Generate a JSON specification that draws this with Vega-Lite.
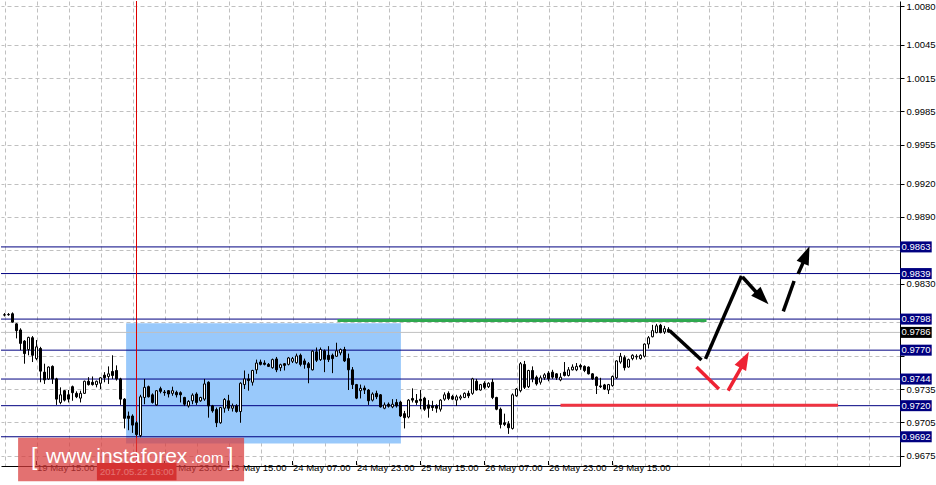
{
"$schema":"https://vega.github.io/schema/vega-lite/v6.json",
"width":936,"height":485,
"autosize":{"type":"fit","contains":"padding"},
"padding":0,
"background":"white",
"config":{"view":{"stroke":null},"font":"Liberation Sans"},
"datasets":{
"candles":[
{"k":0,"o":0.98019,"h":0.98034,"l":0.98004,"c":0.98016},
{"k":1,"o":0.98022,"h":0.98034,"l":0.98010,"c":0.98019},
{"k":2,"o":0.98028,"h":0.98040,"l":0.97949,"c":0.97952},
{"k":3,"o":0.97937,"h":0.97943,"l":0.97806,"c":0.97876},
{"k":4,"o":0.97882,"h":0.97897,"l":0.97700,"c":0.97761},
{"k":5,"o":0.97782,"h":0.97791,"l":0.97578,"c":0.97669},
{"k":6,"o":0.97706,"h":0.97821,"l":0.97654,"c":0.97815},
{"k":7,"o":0.97812,"h":0.97827,"l":0.97593,"c":0.97654},
{"k":8,"o":0.97624,"h":0.97791,"l":0.97609,"c":0.97730},
{"k":9,"o":0.97715,"h":0.97730,"l":0.97411,"c":0.97511},
{"k":10,"o":0.97502,"h":0.97578,"l":0.97396,"c":0.97432},
{"k":11,"o":0.97441,"h":0.97554,"l":0.97432,"c":0.97548},
{"k":12,"o":0.97554,"h":0.97563,"l":0.97396,"c":0.97441},
{"k":13,"o":0.97441,"h":0.97451,"l":0.97207,"c":0.97259},
{"k":14,"o":0.97229,"h":0.97365,"l":0.97213,"c":0.97298},
{"k":15,"o":0.97335,"h":0.97341,"l":0.97238,"c":0.97250},
{"k":16,"o":0.97298,"h":0.97341,"l":0.97229,"c":0.97259},
{"k":17,"o":0.97371,"h":0.97381,"l":0.97244,"c":0.97317},
{"k":18,"o":0.97311,"h":0.97329,"l":0.97268,"c":0.97280},
{"k":19,"o":0.97268,"h":0.97335,"l":0.97229,"c":0.97311},
{"k":20,"o":0.97311,"h":0.97426,"l":0.97305,"c":0.97420},
{"k":21,"o":0.97420,"h":0.97457,"l":0.97381,"c":0.97390},
{"k":22,"o":0.97411,"h":0.97463,"l":0.97381,"c":0.97390},
{"k":23,"o":0.97390,"h":0.97426,"l":0.97365,"c":0.97420},
{"k":24,"o":0.97402,"h":0.97457,"l":0.97350,"c":0.97451},
{"k":25,"o":0.97475,"h":0.97502,"l":0.97411,"c":0.97451},
{"k":26,"o":0.97463,"h":0.97554,"l":0.97396,"c":0.97487},
{"k":27,"o":0.97508,"h":0.97654,"l":0.97441,"c":0.97472},
{"k":28,"o":0.97517,"h":0.97563,"l":0.97426,"c":0.97441},
{"k":29,"o":0.97441,"h":0.97451,"l":0.97207,"c":0.97259},
{"k":30,"o":0.97259,"h":0.97268,"l":0.96995,"c":0.97086},
{"k":31,"o":0.97107,"h":0.97147,"l":0.96979,"c":0.97086},
{"k":32,"o":0.97107,"h":0.97122,"l":0.96955,"c":0.97025},
{"k":33,"o":0.97046,"h":0.97061,"l":0.96925,"c":0.96940},
{"k":34,"o":0.96931,"h":0.97298,"l":0.96916,"c":0.97280},
{"k":35,"o":0.97274,"h":0.97441,"l":0.97213,"c":0.97365},
{"k":36,"o":0.97371,"h":0.97381,"l":0.97274,"c":0.97280},
{"k":37,"o":0.97298,"h":0.97311,"l":0.97219,"c":0.97229},
{"k":38,"o":0.97207,"h":0.97341,"l":0.97198,"c":0.97335},
{"k":39,"o":0.97353,"h":0.97371,"l":0.97311,"c":0.97329},
{"k":40,"o":0.97323,"h":0.97341,"l":0.97289,"c":0.97317},
{"k":41,"o":0.97335,"h":0.97341,"l":0.97274,"c":0.97305},
{"k":42,"o":0.97311,"h":0.97371,"l":0.97289,"c":0.97335},
{"k":43,"o":0.97320,"h":0.97335,"l":0.97274,"c":0.97298},
{"k":44,"o":0.97317,"h":0.97329,"l":0.97229,"c":0.97298},
{"k":45,"o":0.97274,"h":0.97280,"l":0.97198,"c":0.97213},
{"k":46,"o":0.97198,"h":0.97250,"l":0.97183,"c":0.97238},
{"k":47,"o":0.97244,"h":0.97311,"l":0.97213,"c":0.97295},
{"k":48,"o":0.97305,"h":0.97320,"l":0.97207,"c":0.97229},
{"k":49,"o":0.97244,"h":0.97280,"l":0.97235,"c":0.97274},
{"k":50,"o":0.97259,"h":0.97441,"l":0.97244,"c":0.97396},
{"k":51,"o":0.97411,"h":0.97420,"l":0.97092,"c":0.97198},
{"k":52,"o":0.97198,"h":0.97207,"l":0.97137,"c":0.97153},
{"k":53,"o":0.97165,"h":0.97183,"l":0.97007,"c":0.97046},
{"k":54,"o":0.97046,"h":0.97189,"l":0.97037,"c":0.97183},
{"k":55,"o":0.97177,"h":0.97268,"l":0.97137,"c":0.97256},
{"k":56,"o":0.97244,"h":0.97298,"l":0.97153,"c":0.97177},
{"k":57,"o":0.97177,"h":0.97219,"l":0.97147,"c":0.97198},
{"k":58,"o":0.97198,"h":0.97213,"l":0.97137,"c":0.97147},
{"k":59,"o":0.97147,"h":0.97411,"l":0.97046,"c":0.97402},
{"k":60,"o":0.97390,"h":0.97517,"l":0.97350,"c":0.97441},
{"k":61,"o":0.97441,"h":0.97487,"l":0.97335,"c":0.97426},
{"k":62,"o":0.97411,"h":0.97523,"l":0.97381,"c":0.97517},
{"k":63,"o":0.97523,"h":0.97615,"l":0.97487,"c":0.97584},
{"k":64,"o":0.97593,"h":0.97615,"l":0.97563,"c":0.97572},
{"k":65,"o":0.97584,"h":0.97609,"l":0.97563,"c":0.97572},
{"k":66,"o":0.97572,"h":0.97584,"l":0.97548,"c":0.97554},
{"k":67,"o":0.97542,"h":0.97624,"l":0.97533,"c":0.97615},
{"k":68,"o":0.97621,"h":0.97639,"l":0.97502,"c":0.97523},
{"k":69,"o":0.97542,"h":0.97578,"l":0.97511,"c":0.97569},
{"k":70,"o":0.97578,"h":0.97584,"l":0.97517,"c":0.97563},
{"k":71,"o":0.97572,"h":0.97639,"l":0.97563,"c":0.97630},
{"k":72,"o":0.97600,"h":0.97639,"l":0.97584,"c":0.97624},
{"k":73,"o":0.97587,"h":0.97669,"l":0.97578,"c":0.97648},
{"k":74,"o":0.97654,"h":0.97669,"l":0.97554,"c":0.97572},
{"k":75,"o":0.97603,"h":0.97624,"l":0.97533,"c":0.97572},
{"k":76,"o":0.97578,"h":0.97593,"l":0.97402,"c":0.97542},
{"k":77,"o":0.97523,"h":0.97700,"l":0.97517,"c":0.97691},
{"k":78,"o":0.97685,"h":0.97724,"l":0.97593,"c":0.97609},
{"k":79,"o":0.97615,"h":0.97724,"l":0.97603,"c":0.97706},
{"k":80,"o":0.97694,"h":0.97706,"l":0.97502,"c":0.97618},
{"k":81,"o":0.97654,"h":0.97736,"l":0.97593,"c":0.97615},
{"k":82,"o":0.97654,"h":0.97669,"l":0.97493,"c":0.97624},
{"k":83,"o":0.97645,"h":0.97767,"l":0.97639,"c":0.97694},
{"k":84,"o":0.97675,"h":0.97715,"l":0.97654,"c":0.97706},
{"k":85,"o":0.97706,"h":0.97730,"l":0.97593,"c":0.97603},
{"k":86,"o":0.97624,"h":0.97669,"l":0.97341,"c":0.97523},
{"k":87,"o":0.97523,"h":0.97548,"l":0.97350,"c":0.97390},
{"k":88,"o":0.97390,"h":0.97396,"l":0.97259,"c":0.97268},
{"k":89,"o":0.97335,"h":0.97390,"l":0.97265,"c":0.97356},
{"k":90,"o":0.97359,"h":0.97381,"l":0.97305,"c":0.97341},
{"k":91,"o":0.97341,"h":0.97350,"l":0.97207,"c":0.97244},
{"k":92,"o":0.97250,"h":0.97320,"l":0.97238,"c":0.97305},
{"k":93,"o":0.97311,"h":0.97335,"l":0.97259,"c":0.97280},
{"k":94,"o":0.97298,"h":0.97305,"l":0.97183,"c":0.97189},
{"k":95,"o":0.97177,"h":0.97229,"l":0.97168,"c":0.97207},
{"k":96,"o":0.97213,"h":0.97229,"l":0.97183,"c":0.97195},
{"k":97,"o":0.97189,"h":0.97259,"l":0.97177,"c":0.97213},
{"k":98,"o":0.97229,"h":0.97259,"l":0.97183,"c":0.97198},
{"k":99,"o":0.97232,"h":0.97244,"l":0.97098,"c":0.97107},
{"k":100,"o":0.97128,"h":0.97153,"l":0.96995,"c":0.97092},
{"k":101,"o":0.97098,"h":0.97259,"l":0.97086,"c":0.97250},
{"k":102,"o":0.97265,"h":0.97356,"l":0.97229,"c":0.97250},
{"k":103,"o":0.97247,"h":0.97305,"l":0.97207,"c":0.97229},
{"k":104,"o":0.97259,"h":0.97341,"l":0.97168,"c":0.97244},
{"k":105,"o":0.97268,"h":0.97280,"l":0.97153,"c":0.97168},
{"k":106,"o":0.97207,"h":0.97250,"l":0.97092,"c":0.97177},
{"k":107,"o":0.97198,"h":0.97244,"l":0.97153,"c":0.97183},
{"k":108,"o":0.97198,"h":0.97213,"l":0.97137,"c":0.97177},
{"k":109,"o":0.97168,"h":0.97259,"l":0.97147,"c":0.97250},
{"k":110,"o":0.97259,"h":0.97320,"l":0.97244,"c":0.97298},
{"k":111,"o":0.97311,"h":0.97329,"l":0.97250,"c":0.97265},
{"k":112,"o":0.97283,"h":0.97298,"l":0.97250,"c":0.97259},
{"k":113,"o":0.97250,"h":0.97298,"l":0.97198,"c":0.97280},
{"k":114,"o":0.97268,"h":0.97298,"l":0.97250,"c":0.97280},
{"k":115,"o":0.97274,"h":0.97320,"l":0.97268,"c":0.97311},
{"k":116,"o":0.97311,"h":0.97335,"l":0.97268,"c":0.97289},
{"k":117,"o":0.97311,"h":0.97451,"l":0.97298,"c":0.97441},
{"k":118,"o":0.97420,"h":0.97441,"l":0.97335,"c":0.97341},
{"k":119,"o":0.97341,"h":0.97396,"l":0.97335,"c":0.97390},
{"k":120,"o":0.97402,"h":0.97420,"l":0.97350,"c":0.97365},
{"k":121,"o":0.97371,"h":0.97411,"l":0.97359,"c":0.97402},
{"k":122,"o":0.97411,"h":0.97441,"l":0.97259,"c":0.97274},
{"k":123,"o":0.97274,"h":0.97280,"l":0.97159,"c":0.97168},
{"k":124,"o":0.97168,"h":0.97183,"l":0.96995,"c":0.97031},
{"k":125,"o":0.97046,"h":0.97128,"l":0.97016,"c":0.97031},
{"k":126,"o":0.97037,"h":0.97061,"l":0.96946,"c":0.97001},
{"k":127,"o":0.96995,"h":0.97311,"l":0.96985,"c":0.97298},
{"k":128,"o":0.97289,"h":0.97359,"l":0.97280,"c":0.97350},
{"k":129,"o":0.97335,"h":0.97593,"l":0.97320,"c":0.97578},
{"k":130,"o":0.97572,"h":0.97603,"l":0.97350,"c":0.97365},
{"k":131,"o":0.97371,"h":0.97523,"l":0.97359,"c":0.97517},
{"k":132,"o":0.97517,"h":0.97554,"l":0.97411,"c":0.97441},
{"k":133,"o":0.97457,"h":0.97472,"l":0.97381,"c":0.97396},
{"k":134,"o":0.97411,"h":0.97472,"l":0.97390,"c":0.97451},
{"k":135,"o":0.97451,"h":0.97493,"l":0.97432,"c":0.97478},
{"k":136,"o":0.97493,"h":0.97511,"l":0.97420,"c":0.97441},
{"k":137,"o":0.97502,"h":0.97523,"l":0.97441,"c":0.97457},
{"k":138,"o":0.97487,"h":0.97493,"l":0.97432,"c":0.97451},
{"k":139,"o":0.97432,"h":0.97493,"l":0.97420,"c":0.97457},
{"k":140,"o":0.97502,"h":0.97593,"l":0.97463,"c":0.97472},
{"k":141,"o":0.97472,"h":0.97548,"l":0.97463,"c":0.97523},
{"k":142,"o":0.97523,"h":0.97572,"l":0.97517,"c":0.97548},
{"k":143,"o":0.97523,"h":0.97584,"l":0.97511,"c":0.97554},
{"k":144,"o":0.97563,"h":0.97578,"l":0.97523,"c":0.97548},
{"k":145,"o":0.97554,"h":0.97563,"l":0.97502,"c":0.97517},
{"k":146,"o":0.97548,"h":0.97554,"l":0.97481,"c":0.97487},
{"k":147,"o":0.97487,"h":0.97493,"l":0.97432,"c":0.97441},
{"k":148,"o":0.97457,"h":0.97463,"l":0.97305,"c":0.97381},
{"k":149,"o":0.97378,"h":0.97451,"l":0.97359,"c":0.97371},
{"k":150,"o":0.97387,"h":0.97396,"l":0.97341,"c":0.97350},
{"k":151,"o":0.97341,"h":0.97396,"l":0.97305,"c":0.97390},
{"k":152,"o":0.97381,"h":0.97472,"l":0.97371,"c":0.97463},
{"k":153,"o":0.97451,"h":0.97609,"l":0.97441,"c":0.97603},
{"k":154,"o":0.97593,"h":0.97675,"l":0.97578,"c":0.97645},
{"k":155,"o":0.97633,"h":0.97654,"l":0.97517,"c":0.97542},
{"k":156,"o":0.97548,"h":0.97624,"l":0.97542,"c":0.97615},
{"k":157,"o":0.97624,"h":0.97663,"l":0.97609,"c":0.97654},
{"k":158,"o":0.97639,"h":0.97663,"l":0.97615,"c":0.97645},
{"k":159,"o":0.97624,"h":0.97663,"l":0.97615,"c":0.97654},
{"k":160,"o":0.97645,"h":0.97761,"l":0.97633,"c":0.97755},
{"k":161,"o":0.97755,"h":0.97827,"l":0.97715,"c":0.97812},
{"k":162,"o":0.97821,"h":0.97928,"l":0.97815,"c":0.97876},
{"k":163,"o":0.97858,"h":0.97937,"l":0.97852,"c":0.97919},
{"k":164,"o":0.97925,"h":0.97937,"l":0.97852,"c":0.97858},
{"k":165,"o":0.97864,"h":0.97919,"l":0.97846,"c":0.97894},
{"k":166,"o":0.97888,"h":0.97907,"l":0.97858,"c":0.97864}
],
"levels":[
{"v":0.9863,"lab":"0.9863","kind":"level"},
{"v":0.9839,"lab":"0.9839","kind":"level"},
{"v":0.9798,"lab":"0.9798","kind":"level"},
{"v":0.9770,"lab":"0.9770","kind":"level"},
{"v":0.9744,"lab":"0.9744","kind":"level"},
{"v":0.9720,"lab":"0.9720","kind":"level"},
{"v":0.9692,"lab":"0.9692","kind":"level"},
{"v":0.9786,"lab":"0.9786","kind":"price"}
],
"hl":[
{"k1":83.25,"k2":175.5,"p":0.97968,"kind":"green"},
{"k1":139,"k2":208.4,"p":0.97203,"kind":"red"}
],
"segs":[
{"k1":166.25,"p1":0.97877,"k2":174.25,"p2":0.97612,"kind":"black"},
{"k1":175.25,"p1":0.97622,"k2":184.25,"p2":0.98368,"kind":"black"},
{"k1":184.5,"p1":0.98359,"k2":189.3,"p2":0.98168,"kind":"black"},
{"k1":194.7,"p1":0.98050,"k2":197.4,"p2":0.98323,"kind":"black"},
{"k1":198.4,"p1":0.98387,"k2":199.8,"p2":0.98500,"kind":"black"},
{"k1":173,"p1":0.97549,"k2":178.6,"p2":0.97351,"kind":"red"},
{"k1":180.9,"p1":0.97336,"k2":184.5,"p2":0.97565,"kind":"red"}
],
"heads":[
{"k":191,"p":0.98113,"dir":136,"kind":"black"},
{"k":201.25,"p":0.98635,"dir":22,"kind":"black"},
{"k":186.1,"p":0.97685,"dir":28,"kind":"red"}
],
"xticks":[{"k":8},{"k":40},{"k":56},{"k":72},{"k":88},{"k":104},{"k":120},{"k":136},{"k":152}]
},
"layer":[
{
"data":{"values":[{"k1":30.4,"k2":99.1,"p1":0.97943,"p2":0.96859}]},
"mark":{"type":"rect","fill":"#99c9fb"},
"encoding":{
"x":{"field":"k1","type":"quantitative","scale":{"domain":[0.375,222.625],"nice":false,"zero":false},
"axis":{"orient":"bottom","title":null,"values":[0,8,16,24,32,40,48,56,64,72,80,88,96,104,112,120,128,136,144,152,160,168,176,184,192,200,208,216],"tickCount":500,
"labelExpr":"datum.value==8?'19 May 15:00':datum.value==40?'22 May 23:00':datum.value==56?'23 May 15:00':datum.value==72?'24 May 07:00':datum.value==88?'24 May 23:00':datum.value==104?'25 May 15:00':datum.value==120?'26 May 07:00':datum.value==136?'26 May 23:00':datum.value==152?'29 May 15:00':''",
"labelAlign":"left","labelFontSize":9.5,"labelColor":"black","labelPadding":-4,"ticks":false,
"domainColor":"black","grid":true,"gridColor":"#c0c0c0","gridDash":[4,3],"labelOverlap":false,"labelFlush":false,"labelBound":false}},
"x2":{"field":"k2"},
"y":{"field":"p1","type":"quantitative","scale":{"domain":[0.967017,1.008],"nice":false,"zero":false},
"axis":{"orient":"right","title":null,"values":[0.9675,0.9705,0.9735,0.9765,0.9795,0.983,0.986,0.989,0.992,0.9955,0.9985,1.0015,1.0045,1.008],"tickCount":500,
"labelExpr":"(abs(datum.value-0.986)<0.00001||abs(datum.value-0.9795)<0.00001||abs(datum.value-0.9765)<0.00001)?'':format(datum.value,'.4f')",
"labelFontSize":9.5,"labelColor":"black","labelPadding":2,"tickSize":4,"tickColor":"black","domainColor":"black",
"grid":true,"gridColor":"#c0c0c0","gridDash":[4,3],"labelOverlap":false,"labelFlush":false,"labelBound":false}},
"y2":{"field":"p2"}
}
},
{
"data":{"values":[{}]},
"mark":{"type":"rect","opacity":0},
"encoding":{
"x":{"datum":222,"type":"quantitative"},
"x2":{"datum":231.875},
"y":{"datum":0.97,"type":"quantitative"},
"y2":{"datum":0.965006}
}
},
{
"data":{"name":"xticks"},
"mark":{"type":"rule","strokeWidth":1,"color":"black"},
"encoding":{
"x":{"field":"k","type":"quantitative"},
"y":{"datum":0.967017,"type":"quantitative"},
"y2":{"datum":0.966651}
}
},
{
"data":{"name":"levels"},
"mark":{"type":"rule","strokeWidth":1},
"encoding":{
"y":{"field":"v","type":"quantitative"},
"color":{"condition":{"test":"datum.kind=='price'","value":"#c0c0c0"},"value":"#000080"}
}
},
{
"data":{"name":"hl"},
"mark":{"type":"rule","strokeWidth":3},
"encoding":{
"x":{"field":"k1","type":"quantitative"},
"x2":{"field":"k2"},
"y":{"field":"p","type":"quantitative"},
"color":{"condition":{"test":"datum.kind=='green'","value":"#2fa84f"},"value":"#ef3340"}
}
},
{
"data":{"values":[{"k":33}]},
"mark":{"type":"rule","strokeWidth":1,"color":"#dd0000"},
"encoding":{
"x":{"field":"k","type":"quantitative"}
}
},
{
"data":{"name":"candles"},
"mark":{"type":"rule","strokeWidth":1,"color":"black","clip":true},
"encoding":{
"x":{"field":"k","type":"quantitative"},
"y":{"field":"l","type":"quantitative"},
"y2":{"field":"h"}
}
},
{
"data":{"name":"candles"},
"mark":{"type":"bar","width":2,"stroke":"black","strokeWidth":1,"clip":true},
"encoding":{
"x":{"field":"k","type":"quantitative"},
"y":{"field":"o","type":"quantitative"},
"y2":{"field":"c"},
"fill":{"condition":{"test":"datum.c>=datum.o","value":"white"},"value":"black"}
}
},
{
"data":{"name":"segs"},
"mark":{"type":"rule","strokeWidth":3.5},
"encoding":{
"x":{"field":"k1","type":"quantitative"},
"x2":{"field":"k2"},
"y":{"field":"p1","type":"quantitative"},
"y2":{"field":"p2"},
"color":{"condition":{"test":"datum.kind=='red'","value":"#ee2233"},"value":"black"}
}
},
{
"data":{"name":"heads"},
"mark":{"type":"point","filled":true,"opacity":1,"shape":"M0,0L0.75,2.1L-0.75,2.1Z","size":300,"strokeWidth":0},
"encoding":{
"x":{"field":"k","type":"quantitative"},
"y":{"field":"p","type":"quantitative"},
"angle":{"field":"dir","type":"quantitative","scale":null},
"color":{"condition":{"test":"datum.kind=='red'","value":"#ee2233"},"value":"black"}
}
},
{
"data":{"name":"levels"},
"mark":{"type":"bar","orient":"horizontal","height":11},
"encoding":{
"x":{"datum":223.9,"type":"quantitative"},
"x2":{"datum":231.8},
"y":{"field":"v","type":"quantitative"},
"color":{"condition":{"test":"datum.kind=='price'","value":"black"},"value":"#000080"}
}
},
{
"data":{"name":"levels"},
"mark":{"type":"text","align":"left","baseline":"middle","fontSize":9.5,"color":"white"},
"encoding":{
"x":{"datum":224.25,"type":"quantitative"},
"y":{"field":"v","type":"quantitative"},
"text":{"field":"lab"}
}
},
{
"data":{"values":[{}]},
"mark":{"type":"rect","color":"#cc1f1f"},
"encoding":{
"x":{"datum":23.1,"type":"quantitative"},
"x2":{"datum":43},
"y":{"datum":0.96683,"type":"quantitative"},
"y2":{"datum":0.96529}
}
},
{
"data":{"values":[{}]},
"mark":{"type":"text","align":"center","baseline":"middle","fontSize":9.5,"color":"white","text":"2017.05.22 16:00"},
"encoding":{
"x":{"datum":33.1,"type":"quantitative"},
"y":{"datum":0.96606,"type":"quantitative"}
}
},
{
"data":{"values":[{}]},
"mark":{"type":"rect","color":"#d83a3a","opacity":0.72},
"encoding":{
"x":{"datum":3.4,"type":"quantitative"},
"x2":{"datum":59.9},
"y":{"datum":0.96911,"type":"quantitative"},
"y2":{"datum":0.96520}
}
},
{
"data":{"values":[{}]},
"mark":{"type":"text","align":"left","baseline":"alphabetic","fontSize":21,"color":"white","text":"www.instaforex"},
"encoding":{
"x":{"datum":10.4,"type":"quantitative"},
"y":{"datum":0.96683,"type":"quantitative"}
}
},
{
"data":{"values":[{}]},
"mark":{"type":"text","align":"left","baseline":"alphabetic","fontSize":15,"color":"white","text":".com"},
"encoding":{
"x":{"datum":46.6,"type":"quantitative"},
"y":{"datum":0.96683,"type":"quantitative"}
}
},
{
"data":{"values":[{"t":"[","k":6.6},{"t":"]","k":55.6}]},
"mark":{"type":"text","align":"left","baseline":"alphabetic","fontSize":23,"color":"white"},
"encoding":{
"x":{"field":"k","type":"quantitative"},
"y":{"datum":0.96665,"type":"quantitative"},
"text":{"field":"t"}
}
}
]
}
